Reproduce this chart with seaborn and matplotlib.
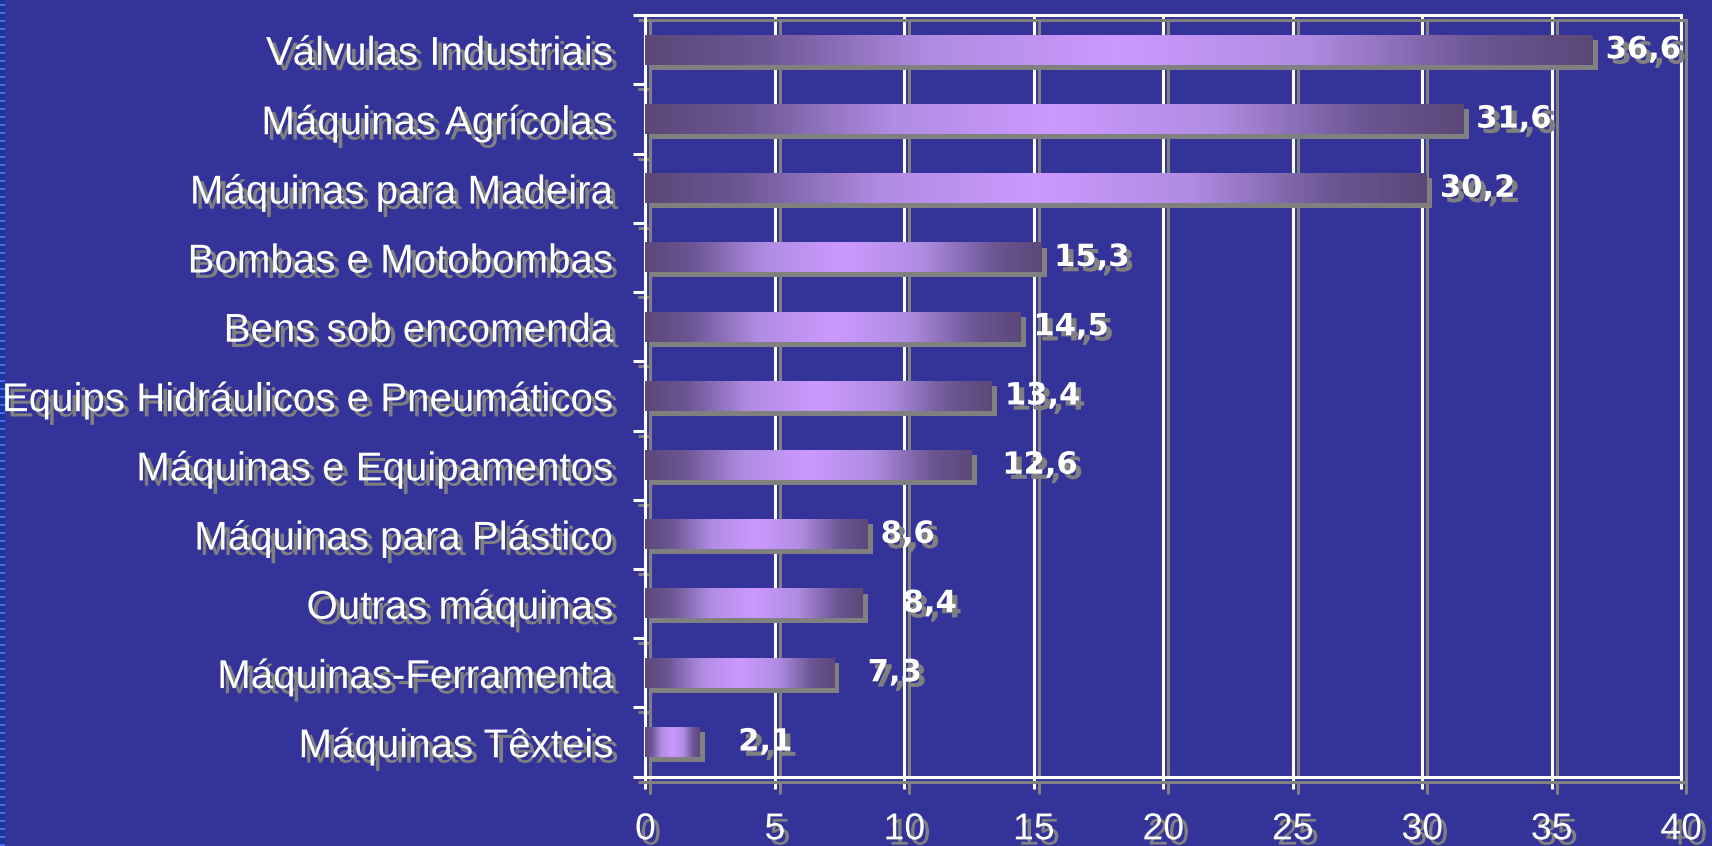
import numpy as np
import pandas as pd
import matplotlib
matplotlib.use("Agg")
import matplotlib.pyplot as plt
import matplotlib.patheffects as pe
from matplotlib.colors import LinearSegmentedColormap
from matplotlib.patches import Rectangle
import seaborn as sns

# ---- data ----
categories = [
    "Válvulas Industriais",
    "Máquinas Agrícolas",
    "Máquinas para Madeira",
    "Bombas e Motobombas",
    "Bens sob encomenda",
    "Equips Hidráulicos e Pneumáticos",
    "Máquinas e Equipamentos",
    "Máquinas para Plástico",
    "Outras máquinas",
    "Máquinas-Ferramenta",
    "Máquinas Têxteis",
]
values = [36.6, 31.6, 30.2, 15.3, 14.5, 13.4, 12.6, 8.6, 8.4, 7.3, 2.1]
xticks = [0, 5, 10, 15, 20, 25, 30, 35, 40]

# ---- style ----
label_nudge = [0, 0, 0, 0, 0, 0, 0.7, 0, 1.05, 0.8, 1.0]  # extra label gap (data units)
BG = "#333399"
SHADOW = "#808080"
DARK = "#5c4878"
LIGHT = "#cc99ff"
CAT_FONT = "Liberation Sans"

sns.set_theme(style="white")
plt.rcParams["font.family"] = ["DejaVu Sans"]

fig = plt.figure(figsize=(17.12, 8.46), dpi=100, facecolor=BG)
ax = fig.add_axes([0.377, 0.082, 0.605, 0.9])
ax.set_facecolor(BG)

df = pd.DataFrame({"cat": categories, "val": values})
sns.barplot(data=df, x="val", y="cat", orient="h", color=DARK, width=0.43,
            saturation=1, ax=ax, zorder=3)

shadow_off = (3.6, -3.6)
bar_fx = [pe.SimplePatchShadow(offset=shadow_off, shadow_rgbFace=SHADOW, alpha=1.0), pe.Normal()]
line_fx = [pe.SimpleLineShadow(offset=shadow_off, shadow_color=SHADOW, alpha=1.0), pe.Normal()]
text_fx = [pe.withSimplePatchShadow(offset=(3.8, -3.8), shadow_rgbFace=SHADOW, alpha=1.0)]

# gradient (dark - light - dark)
cmap = LinearSegmentedColormap.from_list(
    "g",
    [(0.0, DARK), (0.12, "#6c5694"), (0.3, "#b08ce2"), (0.5, LIGHT),
     (0.7, "#b08ce2"), (0.88, "#6c5694"), (1.0, DARK)])
grad = np.linspace(0, 1, 256).reshape(1, -1)

for patch in ax.patches:
    patch.set_path_effects(bar_fx)
    patch.set_edgecolor("none")
    x0, y0 = patch.get_x(), patch.get_y()
    w, h = patch.get_width(), patch.get_height()
    ax.imshow(grad, cmap=cmap, aspect="auto", extent=(x0, x0 + w, y0 + h, y0),
              zorder=4, interpolation="bilinear")

ax.set_xlim(0, 40)
ax.set_ylim(len(categories) - 0.5, -0.5)

# value labels
for i, (v, nud) in enumerate(zip(values, label_nudge)):
    ax.annotate(f"{v:.1f}".replace(".", ","), xy=(v + nud, i), xytext=(9, 0),
                textcoords="offset points", ha="left", va="center",
                fontsize=22, fontweight="bold", color="white",
                family="DejaVu Sans", path_effects=text_fx, zorder=6)

# grid
ax.set_xticks(xticks)
ax.set_xticklabels([str(t) for t in xticks])
ax.grid(axis="x", color="white", linewidth=2.2, zorder=1)
ax.grid(axis="y", visible=False)
for gl in ax.get_xgridlines():
    gl.set_path_effects(line_fx)

# y ticks: boundaries (major, no label), labels at centers (minor)
n = len(categories)
ax.set_yticks(np.arange(-0.5, n, 1.0))
ax.set_yticklabels([])
ax.set_yticks(np.arange(n), minor=True)
ax.set_yticklabels(categories, minor=True)
ax.set_ylabel("")
ax.set_xlabel("")

ax.tick_params(axis="y", which="major", length=9, width=2.2, color="white", direction="out", left=True)
ax.tick_params(axis="y", which="minor", length=0, pad=23, labelsize=29, labelcolor="white")
ax.tick_params(axis="x", which="major", length=9, width=2.2, color="white", direction="out",
               bottom=True, pad=16, labelsize=27, labelcolor="white")

for lbl in ax.get_yticklabels(minor=True):
    lbl.set_family(CAT_FONT)
    lbl.set_path_effects(text_fx)
for lbl in ax.get_xticklabels():
    lbl.set_family(CAT_FONT)
    lbl.set_path_effects(text_fx)
for t in ax.yaxis.get_major_ticks() + ax.xaxis.get_major_ticks():
    t.tick1line.set_path_effects(line_fx)

for s in ax.spines.values():
    s.set_visible(True)
    s.set_color("white")
    s.set_linewidth(2.2)
    s.set_path_effects(line_fx)
    s.set_zorder(2)

# left decorative stripe
fig.add_artist(Rectangle((0, 0), 5, 846, transform=None, facecolor="#123a9c", edgecolor="none"))
for yy in range(0, 846, 8):
    fig.add_artist(Rectangle((0, yy), 5, 2, transform=None, facecolor="#5566ee", edgecolor="none"))

fig.savefig("out.png", dpi=100, facecolor=BG)
